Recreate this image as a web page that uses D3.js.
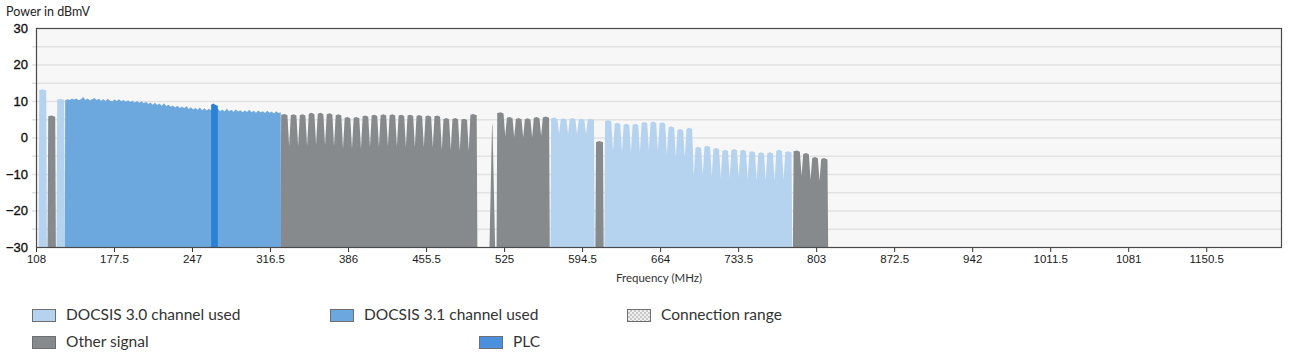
<!DOCTYPE html>
<html>
<head>
<meta charset="utf-8">
<script src="https://cdn.jsdelivr.net/npm/d3@7"></script>
<style>
  html, body { margin: 0; padding: 0; background: #ffffff; }
  svg { display: block; }
</style>
</head>
<body>
<svg id="chart" width="1295" height="361"></svg>
<script>
// ---------------- DATA ----------------
const xTickValues = [108, 177.5, 247, 316.5, 386, 455.5, 525, 594.5, 664, 733.5, 803, 872.5, 942, 1011.5, 1081, 1150.5];
const yTickLabels = [30, 20, 10, 0, -10, -20, -30];
const freqDomain = [108, 1218];
const powerDomain = [-30, 30];

// channel blocks (8 MHz channels), levels in dBmV
const channelWidth = 8;
const blockTypes  = ["d30", "other", "d30", "other", "other", "d30", "other", "d30", "other"];
const blockStarts = [110, 118, 126, 325.5, 518, 566, 606, 614, 782];
const blockLevels = [
  [13.0],
  [5.8],
  [10.4],
  [6.2, 6.1, 6.1, 6.5, 6.5, 6.4, 6.1, 5.4, 5.4, 5.8, 6.0, 6.1, 6.1, 6.0, 6.0, 5.9, 5.8, 5.8, 5.1, 5.1, 4.9, 6.2],
  [6.7, 5.4, 5.1, 5.0, 5.4, 5.5],
  [5.2, 5.0, 5.1, 4.9, 4.9],
  [-1.2],
  [4.5, 3.8, 3.5, 3.5, 4.0, 4.1, 3.9, 2.8, 2.1, 2.4, -2.8, -2.5, -3.1, -3.6, -3.4, -3.6, -4.0, -4.3, -4.3, -3.6, -4.0],
  [-3.8, -4.5, -5.6, -5.9]
];
const blockNotchDepth = [0, 0, 0, 8.5, 5, 4, 0, 7.5, 6];

// DOCSIS 3.1 OFDM block, sampled every 2 MHz from 134 MHz
const ofdmStart = 134, ofdmStep = 2;
const ofdmLevels = [
  10.2, 10.5, 10.3, 10.6, 10.4, 10.7, 10.2, 10.5, 11.1, 10.3,
  10.7, 10.2, 10.5, 10.8, 10.3, 10.6, 10.1, 10.5, 10.0, 10.6,
  10.1, 9.9, 10.4, 10.0, 10.5, 9.9, 10.3, 9.8, 10.2, 9.7,
  10.1, 9.6, 10.0, 9.5, 9.9, 9.4, 9.8, 9.2, 9.6, 9.0,
  9.5, 8.9, 9.3, 8.7, 9.4, 8.6, 9.0, 8.4, 8.8, 8.2,
  8.7, 8.1, 8.5, 8.0, 8.6, 7.8, 8.3, 7.7, 8.1, 7.6,
  8.2, 7.5, 8.0, 7.4, 7.9, 7.5, 7.8, 7.4, 7.9, 7.2,
  7.7, 7.1, 7.9, 7.2, 7.6, 7.0, 7.7, 7.1, 7.5, 6.9,
  7.4, 7.0, 7.6, 6.9, 7.3, 6.8, 7.4, 6.9, 7.2, 6.7,
  7.3, 6.8, 7.1, 6.6, 7.2, 6.7, 6.9
];
// PLC inside the OFDM block
const plcFreqs  = [264, 266, 268, 270];
const plcLevels = [9.0, 9.3, 8.9, 8.7];

// narrow spike (other signal)
const spikeFreqs  = [512, 514.3, 514.7, 517];
const spikeLevels = [-30, 3.9, 3.0, -30];

const legendLabels = ["DOCSIS 3.0 channel used", "DOCSIS 3.1 channel used", "Connection range", "Other signal", "PLC"];

// ---------------- STYLE ----------------
const colors = { d30: "#b5d3ef", d31: "#6ca8de", plc: "#2b80d6", other: "#868a8c" };
const margin = { left: 36, right: 13, top: 28, bottom: 114 };
const W = 1295, H = 361;

const svg = d3.select("#chart");
const x = d3.scaleLinear().domain(freqDomain).range([margin.left, W - margin.right]);
const y = d3.scaleLinear().domain(powerDomain).range([H - margin.bottom, margin.top]);

const defs = svg.append("defs");
defs.append("clipPath").attr("id", "plotclip").append("rect")
  .attr("x", x.range()[0]).attr("y", y.range()[1])
  .attr("width", x.range()[1] - x.range()[0]).attr("height", y.range()[0] - y.range()[1]);
const pat = defs.append("pattern").attr("id", "checker").attr("width", 4).attr("height", 4).attr("patternUnits", "userSpaceOnUse");
pat.append("rect").attr("width", 4).attr("height", 4).attr("fill", "#f0f0f0");
pat.append("rect").attr("width", 2).attr("height", 2).attr("fill", "#c8c8c8");
pat.append("rect").attr("x", 2).attr("y", 2).attr("width", 2).attr("height", 2).attr("fill", "#c8c8c8");

// plot background
svg.append("rect")
  .attr("x", x.range()[0]).attr("y", y.range()[1])
  .attr("width", x.range()[1] - x.range()[0]).attr("height", y.range()[0] - y.range()[1])
  .attr("fill", "#f7f7f7");

// gridlines every 5 dB via axis
const gridAxis = d3.axisLeft(y).tickValues(d3.range(-25, 30, 5)).tickSize(-(x.range()[1] - x.range()[0]) - 4).tickFormat("");
const gridG = svg.append("g").attr("transform", `translate(${x.range()[0] - 4},0)`).call(gridAxis);
gridG.select(".domain").remove();
gridG.selectAll("line").attr("stroke", "#e2e2e2").attr("stroke-width", 1.5);

// ---------------- MARKS ----------------
const area = d3.area().x(d => x(d[0])).y0(y(-30)).y1(d => y(d[1]));
const plotG = svg.append("g").attr("clip-path", "url(#plotclip)");

function blockPoints(start, levels, depth) {
  const pts = [];
  const n = levels.length;
  const e0 = 0.3, e1 = 0.9, h = 1.5;
  pts.push([start + e0, -30]);
  for (let i = 0; i < n; i++) {
    const left = start + channelWidth * i, right = left + channelWidth;
    const l = levels[i];
    pts.push([left + (i === 0 ? e1 : h), l]);
    pts.push([left + channelWidth * 0.5, l + 0.25]);
    pts.push([right - (i === n - 1 ? e1 : h), l - 0.1]);
    if (i < n - 1) pts.push([right, Math.min(l, levels[i + 1]) - depth]);
  }
  pts.push([start + channelWidth * n - e0, -30]);
  return pts;
}

blockTypes.forEach((t, i) => {
  plotG.append("path")
    .datum(blockPoints(blockStarts[i], blockLevels[i], blockNotchDepth[i]))
    .attr("d", area)
    .attr("fill", colors[t]);
});

// spike
plotG.append("path")
  .datum(spikeFreqs.map((f, i) => [f, spikeLevels[i]]))
  .attr("d", area).attr("fill", colors.other);

// OFDM block
const ofdmPts = ofdmLevels.map((v, i) => [ofdmStart + i * ofdmStep, v]);
const ofdmEnd = ofdmStart + (ofdmLevels.length - 1) * ofdmStep;
const ofdmFull = [[ofdmStart - 0.3, -30]].concat(ofdmPts, [[ofdmEnd + 0.3, -30]]);
plotG.append("path").datum(ofdmFull).attr("d", area).attr("fill", colors.d31);

// PLC
const plcPts = [[plcFreqs[0], -30]].concat(plcFreqs.map((f, i) => [f, plcLevels[i]]), [[plcFreqs[plcFreqs.length - 1], -30]]);
plotG.append("path").datum(plcPts).attr("d", area).attr("fill", colors.plc);

// ---------------- AXES ----------------
const yAxis = d3.axisLeft(y).tickValues(yTickLabels).tickSize(0).tickPadding(8);
const yG = svg.append("g").attr("transform", `translate(${x.range()[0]},0)`).call(yAxis);
yG.select(".domain").remove();
yG.selectAll("text").attr("font-family", "Liberation Sans, Arial, sans-serif").attr("font-size", 13).attr("fill", "#111").attr("stroke", "#111").attr("stroke-width", 0.35);

const xAxis = d3.axisBottom(x).tickValues(xTickValues).tickSize(5).tickPadding(3).tickFormat(d => String(d));
const xG = svg.append("g").attr("transform", `translate(0,${y.range()[0]})`).call(xAxis);
xG.select(".domain").remove();
xG.selectAll("line").attr("stroke", "#333");
xG.selectAll("text").attr("font-family", "Liberation Sans, Arial, sans-serif").attr("font-size", 11.5).attr("fill", "#1a1a1a");

// frame
svg.append("rect")
  .attr("x", x.range()[0] + 0.5).attr("y", y.range()[1] + 0.5)
  .attr("width", x.range()[1] - x.range()[0] - 1).attr("height", y.range()[0] - y.range()[1])
  .attr("fill", "none").attr("stroke", "#4a4a4a").attr("stroke-width", 1.2);

// titles
svg.append("text").attr("x", 6).attr("y", 16).text("Power in dBmV")
  .attr("font-family", "Lato, sans-serif").attr("font-size", 12.5).attr("fill", "#222");
svg.append("text").attr("x", (x.range()[0] + x.range()[1]) / 2).attr("y", 282).attr("text-anchor", "middle")
  .text("Frequency (MHz)").attr("font-family", "Lato, sans-serif").attr("font-size", 11.5).attr("fill", "#333");

// ---------------- LEGEND ----------------
const legendItems = [
  { label: legendLabels[0], fill: colors.d30, sx: 32, row: 0 },
  { label: legendLabels[1], fill: colors.d31, sx: 330, row: 0 },
  { label: legendLabels[2], fill: "url(#checker)", sx: 627, row: 0 },
  { label: legendLabels[3], fill: colors.other, sx: 32, row: 1 },
  { label: legendLabels[4], fill: "#4a90dc", sx: 479, row: 1 }
];
const lg = svg.append("g");
legendItems.forEach(it => {
  const yy = 309 + it.row * 27;
  lg.append("rect").attr("x", it.sx + 0.5).attr("y", yy + 0.5).attr("width", 23).attr("height", 12)
    .attr("fill", it.fill).attr("stroke", "#6e6e6e").attr("stroke-width", 1);
  lg.append("text").attr("x", it.sx + 34).attr("y", yy + 6).attr("dy", "0.35em").text(it.label)
    .attr("font-family", "Lato, sans-serif").attr("font-size", 15.5).attr("fill", "#333");
});
</script>
</body>
</html>
